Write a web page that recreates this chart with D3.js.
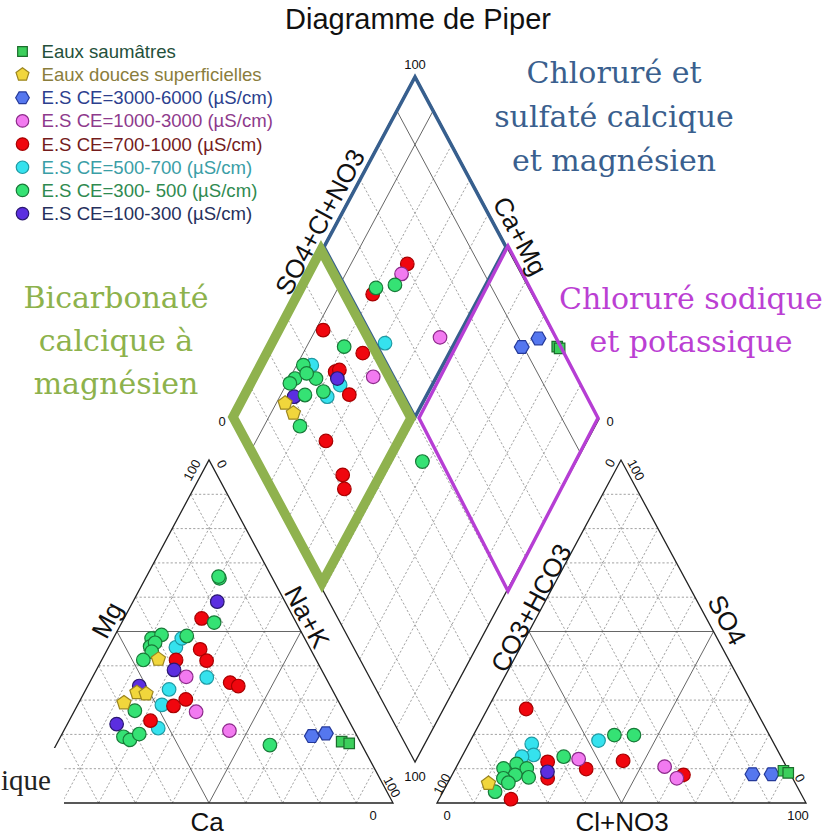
<!DOCTYPE html>
<html><head><meta charset="utf-8">
<script src="https://cdn.jsdelivr.net/npm/d3@7"></script>
<style>body{margin:0;background:#fff}svg{display:block}</style>
</head><body><svg id="chart" width="836" height="838"></svg>
<script>
// ---------- data ----------
// cations: [Ca, Mg, Na+K] in % ; anions: [CO3+HCO3, SO4, Cl+NO3] in %
// diamond: [SO4+Cl+NO3, Ca+Mg] in %
const seriesNames = [
  "Eaux saumâtres", "Eaux douces superficielles",
  "E.S CE=3000-6000 (µS/cm)", "E.S CE=1000-3000 (µS/cm)", "E.S CE=700-1000 (µS/cm)",
  "E.S CE=500-700 (µS/cm)", "E.S CE=300- 500 (µS/cm)", "E.S CE=100-300 (µS/cm)"
];

const brackishCations = [[5.0,17.9,77.1],[3.2,17.4,79.4]];
const brackishAnions  = [[1.4,9.4,89.2],[0.4,8.8,90.8]];
const brackishDiamond = [[99.2,21.9],[99.6,21.0]];

const surfaceCations = [[42.8,41.9,15.3],[53.5,32.2,14.3],[51.2,31.8,17.0],[58.5,29.2,12.3]];
const surfaceAnions  = [[83.2,5.7,11.1]];
const surfaceDiamond = [[17.0,87.6],[17.8,83.9]];

const ce3000Cations = [[12.3,19.5,68.2],[8.1,20.3,71.6]];
const ce3000Anions  = [[10.3,8.4,81.3],[5.1,8.4,86.5]];
const ce3000Diamond = [[89.5,31.5],[95.3,28.2]];

const ce1000Cations = [[37.8,36.8,25.4],[40.2,26.6,33.2],[33.9,21.1,45.0]];
const ce1000Anions  = [[55.2,12.8,32.0],[33.0,10.6,56.4],[31.4,7.2,61.4]];
const ce1000Diamond = [[67.5,74.8],[68.7,55.1],[44.8,67.5]];

const ce700Cations = [[25.1,53.8,21.1],[38.1,41.7,20.2],[30.0,44.8,25.2],[29.9,41.5,28.6],[26.7,35.1,38.2],
                      [25.0,34.1,40.9],[45.5,28.3,26.2],[41.2,30.2,28.6],[53.9,24.0,22.1]];
const ce700Anions  = [[62.1,27.4,10.5],[79.4,1.1,19.5],[64.0,12.0,24.0],[66.4,7.2,26.4],[54.6,9.9,35.5],
                      [43.4,12.3,44.3],[29.1,8.2,62.7]];
const ce700Diamond = [[70.5,74.7],[56.7,79.7],[38.0,87.9],[45.4,73.8],[35.7,71.4],[35.2,78.6],[36.6,77.7],
                      [22.6,71.0],[22.2,61.5],[20.6,59.0]];

const ce500Cations = [[36.3,45.4,18.3],[33.4,48.0,18.6],[32.3,36.6,31.1],[44.3,33.1,22.6],[48.5,28.6,22.9],[52.9,21.8,25.3]];
const ce500Anions  = [[65.7,17.2,17.1],[66.8,14.0,19.2],[70.2,13.5,16.3],[47.1,18.2,34.7]];
const ce500Diamond = [[52.9,69.2],[34.6,75.3],[29.4,77.1],[29.8,85.9]];

const ce300Cations = [[14.4,65.5,20.1],[14.4,66.0,19.6],[22.3,52.6,25.1],[41.6,48.0,10.4],[38.4,49.0,12.6],
                      [43.2,45.6,11.2],[41.3,46.7,12.0],[43.5,44.1,12.4],[47.0,41.7,11.3],[31.7,48.7,19.6],
                      [56.7,26.9,16.4],[63.6,19.3,17.1],[62.3,18.4,19.3],[58.9,20.1,21.0],[25.0,16.9,58.1]];
const ce300Anions  = [[76.9,10.1,13.0],[72.7,11.4,15.9],[70.6,10.1,19.3],[74.7,8.2,17.1],[71.4,7.5,21.1],
                      [78.4,7.2,14.4],[77.7,5.9,16.4],[82.6,3.3,14.1],[58.9,13.5,27.6],[42.0,19.8,38.2],[36.7,19.8,43.5]];
const ce300Diamond = [[64.1,75.0],[58.5,79.7],[41.3,79.8],[29.1,78.9],[29.0,82.8],[23.6,83.4],[23.3,88.5],
                      [21.2,89.2],[27.5,88.2],[27.2,86.1],[17.7,80.2],[45.8,41.8]];

const ce100Cations = [[18.4,58.7,22.9],[40.1,38.8,21.1],[51.9,34.1,14.0],[63.6,23.0,13.4]];
const ce100Anions  = [[65.5,9.1,25.4]];
const ce100Diamond = [[34.8,77.0],[20.4,86.1]];

const cornerTicks = ["0", "100"];
const axisTitles = ["Mg","Na+K","Ca","CO3+HCO3","SO4","Cl+NO3","SO4+Cl+NO3","Ca+Mg"];

// ---------- layout ----------
const svg = d3.select("#chart");
const LT = {bl:[25,803], ap:[209,460], br:[393,803]};
const RT = {bl:[437,803], ap:[621,460], br:[806,803]};
const DM = {b:[415,762], l:[231,419], t:[415,76], r:[599,419]};
const pct = d3.scaleLinear().domain([0,100]).range([0,1]);

function triProject(tri){
  return ([a,b,c]) => {
    const wa = pct(a), wb = pct(b), wc = pct(c);
    return [wa*tri.bl[0] + wb*tri.ap[0] + wc*tri.br[0],
            wa*tri.bl[1] + wb*tri.ap[1] + wc*tri.br[1]];
  };
}
function diaProject([s, c]){
  const fs = pct(s), fc = pct(c);
  return [DM.b[0] + fc*(DM.l[0]-DM.b[0]) + fs*(DM.r[0]-DM.b[0]),
          DM.b[1] + fc*(DM.l[1]-DM.b[1]) + fs*(DM.r[1]-DM.b[1])];
}
const projL = triProject(LT), projR = triProject(RT);

const gridG = svg.append("g");
const levels = d3.range(10, 100, 10);
const diamondSolid = [90];

function gridLine(p1, p2, solid){
  gridG.append("line")
    .attr("x1", p1[0]).attr("y1", p1[1]).attr("x2", p2[0]).attr("y2", p2[1])
    .attr("stroke", solid ? "#555" : "#8a8a8a")
    .attr("stroke-width", solid ? 0.9 : 0.8)
    .attr("stroke-dasharray", solid ? null : "2.2,2");
}
[projL, projR].forEach(proj => {
  levels.forEach(k => {
    const solid = k === 50;
    gridLine(proj([100-k, k, 0]), proj([0, k, 100-k]), solid);
    gridLine(proj([k, 100-k, 0]), proj([k, 0, 100-k]), solid);
    gridLine(proj([100-k, 0, k]), proj([0, 100-k, k]), solid);
  });
});
levels.forEach(k => {
  const solid = diamondSolid.includes(k);
  gridLine(diaProject([k, 0]), diaProject([k, 100]), solid);
  gridLine(diaProject([0, k]), diaProject([100, k]), solid);
});

// outlines
const outline = svg.append("g").attr("fill", "none").attr("stroke", "#222").attr("stroke-width", 1.3);
[LT, RT].forEach(t => outline.append("path").attr("d", d3.line()([t.bl, t.ap, t.br, t.bl]) + "Z"));
outline.append("path").attr("d", d3.line()([DM.b, DM.l, DM.t, DM.r]) + "Z");

// ---------- markers ----------
function polyPath(n, r, rot){
  const pts = d3.range(n).map(i => {
    const a = rot + i*2*Math.PI/n;
    return [r*Math.cos(a), r*Math.sin(a)];
  });
  return d3.line()(pts) + "Z";
}
const shapes = {
  square:  d => d3.symbol(d3.symbolSquare, 110)(),
  pentagon:d => polyPath(5, 7.4, -Math.PI/2),
  hexagon: d => polyPath(6, 7.4, 0),
  circle:  d => d3.symbol(d3.symbolCircle, 145)()
};
const series = [
  {name: seriesNames[0], shape:"square",   fill:"#3ccf5c", stroke:"#1b6d2c", text:"#24503a", cat:brackishCations, an:brackishAnions, dia:brackishDiamond},
  {name: seriesNames[1], shape:"pentagon", fill:"#f1d63c", stroke:"#9c8620", text:"#8a7d3c", cat:surfaceCations, an:surfaceAnions, dia:surfaceDiamond},
  {name: seriesNames[2], shape:"hexagon",  fill:"#5577ef", stroke:"#24399a", text:"#2c3f8e", cat:ce3000Cations, an:ce3000Anions, dia:ce3000Diamond},
  {name: seriesNames[3], shape:"circle",   fill:"#f27af0", stroke:"#8c2a8a", text:"#8e3a8c", cat:ce1000Cations, an:ce1000Anions, dia:ce1000Diamond},
  {name: seriesNames[4], shape:"circle",   fill:"#f0060e", stroke:"#a80000", text:"#741c1c", cat:ce700Cations, an:ce700Anions, dia:ce700Diamond},
  {name: seriesNames[5], shape:"circle",   fill:"#35e2ee", stroke:"#1f9aa3", text:"#3a9ea6", cat:ce500Cations, an:ce500Anions, dia:ce500Diamond},
  {name: seriesNames[6], shape:"circle",   fill:"#35e274", stroke:"#187a38", text:"#2f8a50", cat:ce300Cations, an:ce300Anions, dia:ce300Diamond},
  {name: seriesNames[7], shape:"circle",   fill:"#5b2ee0", stroke:"#2a1870", text:"#26305c", cat:ce100Cations, an:ce100Anions, dia:ce100Diamond}
];
const drawOrder = [5, 4, 7, 3, 6, 1, 2, 0];
const ptsG = svg.append("g");
drawOrder.forEach(i => {
  const s = series[i];
  const all = [
    ...s.cat.map(projL), ...s.an.map(projR), ...s.dia.map(diaProject)
  ];
  ptsG.selectAll(null).data(all).enter().append("path")
    .attr("d", shapes[s.shape])
    .attr("transform", d => `translate(${d[0]},${d[1]})`)
    .attr("fill", s.fill).attr("stroke", s.stroke).attr("stroke-width", 1.2);
});

// ---------- classification outlines ----------
const ov = svg.append("g").attr("fill", "none").attr("stroke-linejoin", "miter");
ov.append("path").attr("d", d3.line()([[415,77],[324,247],[415,417],[506,247]]) + "Z")
  .attr("stroke", "#375f8e").attr("stroke-width", 3.6);
ov.append("path").attr("d", d3.line()([[508,246],[598,418],[508,591],[419,418]]) + "Z")
  .attr("stroke", "#b63ed4").attr("stroke-width", 3.4);
ov.append("path").attr("d", d3.line()([[321,250],[411,418],[322,583],[233,417]]) + "Z")
  .attr("stroke", "#8fb24e").attr("stroke-width", 9.5);

// ---------- text ----------
const sans = "'Liberation Sans', Arial, sans-serif";
svg.append("text").attr("x", 418).attr("y", 29).attr("text-anchor", "middle")
  .attr("font-family", sans).attr("font-size", 29).attr("fill", "#111").text("Diagramme de Piper");

const ang = Math.atan2(343, 184) * 180 / Math.PI;
const axisPos = [
  [107, 620, -ang], [307, 617, ang], [207, 822, 0],
  [531, 608, -ang], [727, 620, ang], [622, 822, 0],
  [320, 222, -ang], [520, 236, ang]
];
axisTitles.forEach((t, i) => {
  const [x, y, a] = axisPos[i];
  svg.append("text").attr("transform", `translate(${x},${y}) rotate(${a})`)
    .attr("text-anchor", "middle").attr("dominant-baseline", "central")
    .attr("font-family", sans).attr("font-size", 26).attr("fill", "#111").text(t);
});

const tickPos = [
  [415, 64, 0, 1], [222, 421, 0, 0], [610, 421, 0, 0], [415, 776, 0, 1],
  [192, 470, -ang, 1], [222, 464, ang, 0], [392, 787, ang, 1], [373, 815, 0, 0],
  [610, 463, -ang, 0], [636, 470, ang, 1], [442, 784, -ang, 1], [447, 815, 0, 0],
  [798, 815, 0, 1], [800, 778, ang, 0]
];
tickPos.forEach(([x, y, a, k]) => {
  svg.append("text").attr("transform", `translate(${x},${y}) rotate(${a})`)
    .attr("text-anchor", "middle").attr("dominant-baseline", "central")
    .attr("font-family", sans).attr("font-size", 13).attr("fill", "#111").text(cornerTicks[k]);
});

// legend
const lg = svg.append("g");
series.forEach((s, i) => {
  const y = 51.5 + i * 23.15;
  lg.append("path").attr("d", shapes[s.shape]).attr("transform", `translate(22.5,${y}) scale(0.92)`)
    .attr("fill", s.fill).attr("stroke", s.stroke).attr("stroke-width", 1.3);
  lg.append("text").attr("x", 41.5).attr("y", y).attr("dominant-baseline", "central")
    .attr("font-family", sans).attr("font-size", 18.6).attr("fill", s.text).text(s.name);
});

// region names
const serif = "'DejaVu Serif', serif";
function block(lines, x, y0, dy, color){
  lines.forEach((t, i) => svg.append("text").attr("x", x).attr("y", y0 + i*dy)
    .attr("text-anchor", "middle").attr("font-family", serif).attr("font-size", 30)
    .attr("fill", color).text(t));
}
block(["Chloruré et", "sulfaté calcique", "et magnésien"], 614, 83, 44, "#3a5f8e");
block(["Bicarbonaté", "calcique à", "magnésien"], 116, 308, 43, "#8db24c");
block(["Chloruré sodique", "et potassique"], 691, 309, 43, "#bb3fd3");

svg.append("rect").attr("x", 0).attr("y", 748).attr("width", 64).attr("height", 90).attr("fill", "#fff");
svg.append("text").attr("x", 1).attr("y", 790).attr("font-family", "'Liberation Serif', serif")
  .attr("font-size", 29).attr("fill", "#222").text("ique");
</script></body></html>
